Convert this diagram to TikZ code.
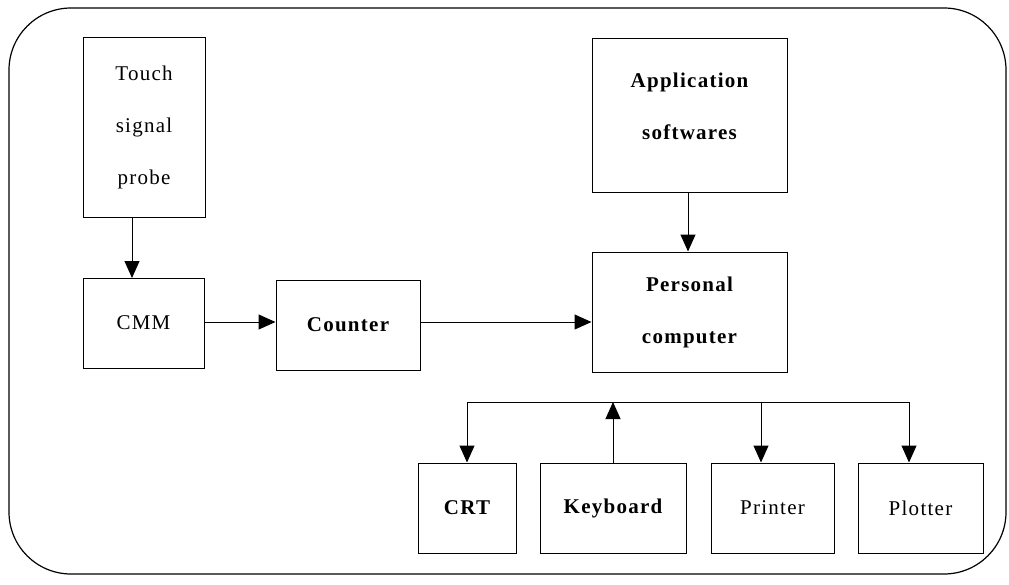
\documentclass[tikz,border=0pt]{standalone}
\usepackage{fontspec}
\setmainfont{Liberation Serif}[LetterSpace=6]
\usetikzlibrary{arrows.meta,calc}

\tikzset{every picture/.style={line width=0.75pt}}
\tikzset{
  blk/.style={draw, line width=1pt, inner sep=0pt},
  txt/.style={font=\fontsize{21}{52}\selectfont, align=center},
  btxt/.style={txt, font=\fontsize{21}{52}\selectfont\bfseries},
  flow/.style={-{Triangle[length=17pt,width=15pt]}, line width=1pt},
}

\begin{document}
\begin{tikzpicture}[x=1pt,y=1pt,yscale=-1,xscale=1]
\useasboundingbox (0,0) rectangle (1009,584);

%Shape: Rounded frame
\draw [line width=1.2pt, rounded corners=62pt] (9,8) rectangle (1006,574);

%Blocks
\node [blk, txt, minimum width=122pt, minimum height=180pt] (touch) at (144,127) {Touch\\signal\\probe};
\node [blk, txt, minimum width=121pt, minimum height=90pt] (cmm) at (143.5,323) {CMM};
\node [blk, btxt, minimum width=144pt, minimum height=90pt] (counter) at (348,325) {Counter};
\node [blk, minimum width=195pt, minimum height=154pt] (app) at (689.5,115) {};
\node [btxt] (apptxt) at (689.5,106) {Application\\softwares};
\node [blk, btxt, minimum width=195pt, minimum height=120pt] (pc) at (689.5,312) {Personal\\computer};

%Output devices
\node [blk, btxt, minimum width=98pt, minimum height=90pt] (crt) at (467,508) {CRT};
\node [blk, btxt, minimum width=146pt, minimum height=90pt] (kbd) at (613,508) {Keyboard};
\node [blk, txt, minimum width=123pt, minimum height=90pt] (printer) at (772.5,508) {Printer};
\node [blk, txt, minimum width=125pt, minimum height=90pt] (plotter) at (920.5,508) {Plotter};

%Connector ends
\coordinate (probeOut) at (132,217);
\coordinate (cmmIn) at (132,278);
\coordinate (busL) at (467,402);
\coordinate (busR) at (909,402);
\coordinate (busK) at (613,402);
\coordinate (busP) at (761,402);

%Connectors
\draw [flow] (probeOut) -- (cmmIn);
\draw [flow] (cmm.east |- 0,322) -- (counter.west |- 0,322);
\draw [flow] (counter.east |- 0,322) -- (pc.west |- 0,322);
\draw [flow] (app.south -| 688,0) -- (pc.north -| 688,0);
\draw [line width=1pt] (busL) -- (busR);
\draw [flow] (busL) -- (crt.north);
\draw [flow] (kbd.north) -- (busK);
\draw [flow] (busP) -- (busP |- printer.north);
\draw [flow] (busR) -- (busR |- plotter.north);

\end{tikzpicture}
\end{document}
